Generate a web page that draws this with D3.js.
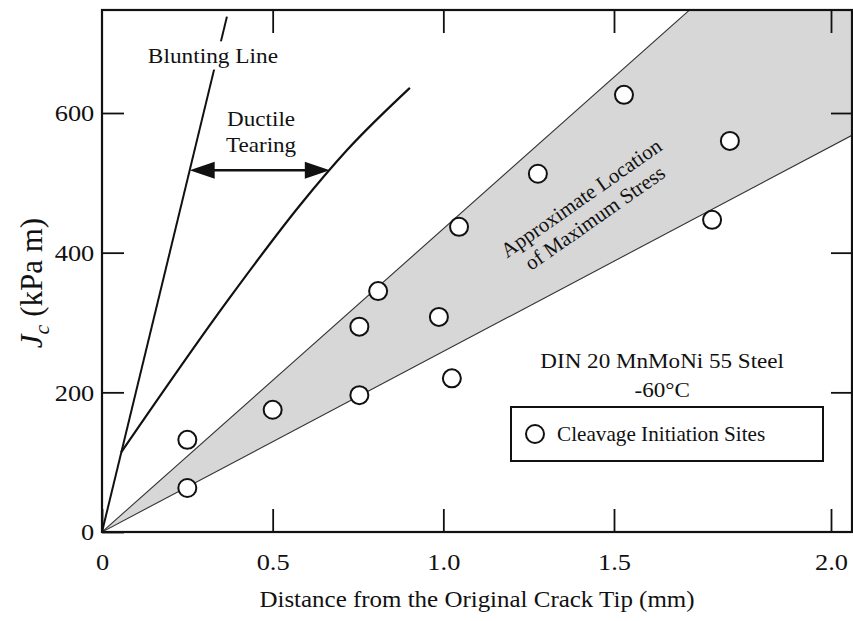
<!DOCTYPE html>
<html>
<head>
<meta charset="utf-8">
<script src="https://cdn.jsdelivr.net/npm/d3@7"></script>
<style>
body { margin: 0; background: #fff; }
svg text { font-family: "Liberation Serif", "Times New Roman", serif; fill: #111; }
</style>
</head>
<body>
<svg id="chart" width="853" height="621"></svg>
<script>
// cleavage initiation sites (mm, kPa m)
const siteX = [0.25, 0.25, 0.50, 0.754, 0.754, 0.809, 0.987, 1.025, 1.046, 1.277, 1.523, 1.726, 1.767]
const siteJ = [132, 63, 175, 196, 294, 345, 308, 220, 437, 513, 626, 447, 560]

// blunting line and ductile tearing curve
const bluntX = [0, 0.366]
const bluntJ = [0, 738]
const tearX = [0.056, 0.369, 0.580, 0.718, 0.902]
const tearJ = [114, 332, 468, 547, 636]

// shaded band = region between two rays from the origin
const bandX = [0, 1.675, 2.05, 2.05]
const bandJ = [0, 748, 748, 568]

const xTicks = [0, 0.5, 1.0, 1.5, 2.0]
const yTicks = [0, 200, 400, 600]
const arrowJ = 518

const margin = {top: 10, right: 1, bottom: 89, left: 102}
const width = 853 - margin.left - margin.right
const height = 621 - margin.top - margin.bottom
const SX = 1.1 // printed type is a bit wide

// the printed x axis is not even past 1.5, so follow its ticks
const x = d3.scaleLinear().domain([0, 1.5, 2.0, 2.05]).range([0, 512, 729, width])
const y = d3.scaleLinear().domain([0, 747.5]).range([height, 0])

const svg = d3.select('#chart')
const g = svg.append('g').attr('transform', `translate(${margin.left},${margin.top})`)

g.append('clipPath').attr('id', 'clip')
  .append('rect').attr('width', width).attr('height', height)
const plot = g.append('g').attr('clip-path', 'url(#clip)')

// band
const pts = (xs, js) => xs.map((d, i) => [x(d), y(js[i])])
plot.append('path')
  .attr('d', d3.line()(pts(bandX, bandJ)) + 'Z')
  .attr('fill', '#d7d7d7')
plot.append('path')
  .attr('d', d3.line()([[x(bandX[0]), y(bandJ[0])], [x(bandX[1]), y(bandJ[1])]]))
  .attr('stroke', '#333').attr('stroke-width', 1.1).attr('fill', 'none')
plot.append('path')
  .attr('d', d3.line()([[x(bandX[0]), y(bandJ[0])], [x(bandX[3]), y(bandJ[3])]]))
  .attr('stroke', '#333').attr('stroke-width', 1.1).attr('fill', 'none')

// blunting line + tearing curve
plot.append('path')
  .attr('d', d3.line()(pts(bluntX, bluntJ)))
  .attr('stroke', '#111').attr('stroke-width', 2).attr('fill', 'none')
plot.append('path')
  .attr('d', d3.line().curve(d3.curveMonotoneX)(pts(tearX, tearJ)))
  .attr('stroke', '#111').attr('stroke-width', 2.2).attr('fill', 'none')

// axes, ticks pointing inward on all four sides
function styleAxis(sel) {
  sel.select('.domain').remove()
  sel.selectAll('line').attr('stroke', '#111').attr('stroke-width', 1.8)
  sel.selectAll('text').style('font-size', '24px').attr('fill', '#111')
}
g.append('g').attr('transform', `translate(0,${height})`)
  .call(d3.axisBottom(x).tickValues(xTicks).tickSizeInner(-23).tickSizeOuter(0).tickPadding(21)
    .tickFormat(d => d === 0 ? '0' : d.toFixed(1)))
  .call(styleAxis)
  .selectAll('text').attr('transform', `scale(${SX},1)`)
g.append('g')
  .call(d3.axisTop(x).tickValues(xTicks.slice(1)).tickSizeInner(-23).tickSizeOuter(0).tickFormat(''))
  .call(styleAxis)
g.append('g')
  .call(d3.axisLeft(y).tickValues(yTicks).tickSizeInner(-22).tickSizeOuter(0).tickPadding(7))
  .call(styleAxis)
  .selectAll('text').attr('transform', `scale(${SX},1)`)
g.append('g').attr('transform', `translate(${width},0)`)
  .call(d3.axisRight(y).tickValues(yTicks.slice(1)).tickSizeInner(-21).tickSizeOuter(0).tickFormat(''))
  .call(styleAxis)

g.append('rect').attr('width', width).attr('height', height)
  .attr('fill', 'none').attr('stroke', '#111').attr('stroke-width', 2.2)

// helper: x on a polyline at a given J
function xAtJ(xs, js, J) {
  for (let i = 1; i < js.length; i++) {
    if (J <= js[i]) return xs[i-1] + (J - js[i-1]) / (js[i] - js[i-1]) * (xs[i] - xs[i-1])
  }
  return xs[xs.length-1]
}

function note(parent, px, py, str, size, sx) {
  return parent.append('text')
    .attr('transform', `translate(${px},${py}) scale(${sx || SX},1)`)
    .attr('text-anchor', 'middle')
    .style('font-size', size + 'px')
    .text(str)
}

// Blunting Line label sits on a white patch that breaks the line
const bl = note(g, x(0.325), y(672), 'Blunting Line', 22, 1.06)
const bb = bl.node().getBBox()
g.insert('rect', () => bl.node())
  .attr('x', x(0.325) - bb.width * 1.06 / 2 - 3).attr('y', y(672) + bb.y - 2)
  .attr('width', bb.width * 1.06 + 6).attr('height', bb.height + 4)
  .attr('fill', '#fff')

note(g, x(0.466), y(581), 'Ductile', 21)
note(g, x(0.466), y(544), 'Tearing', 21)

// double arrow between blunting line and tearing curve
const ax1 = x(xAtJ(bluntX, bluntJ, arrowJ))
const ax2 = x(xAtJ(tearX, tearJ, arrowJ))
const ay = y(arrowJ)
g.append('line').attr('x1', ax1 + 20).attr('x2', ax2 - 20).attr('y1', ay).attr('y2', ay)
  .attr('stroke', '#111').attr('stroke-width', 2.4)
g.append('path').attr('d', `M${ax1},${ay}L${ax1+25},${ay-8.5}L${ax1+25},${ay+8.5}Z`).attr('fill', '#111')
g.append('path').attr('d', `M${ax2},${ay}L${ax2-25},${ay-8.5}L${ax2-25},${ay+8.5}Z`).attr('fill', '#111')

// band label
const bt = g.append('text')
  .attr('transform', `translate(${x(1.424)},${y(464)}) rotate(-35)`)
  .attr('text-anchor', 'middle').style('font-size', '21px')
bt.append('tspan').attr('x', 0).attr('dy', -5).text('Approximate Location')
bt.append('tspan').attr('x', 0).attr('dy', 24).text('of Maximum Stress')

note(g, x(1.611), y(235), 'DIN 20 MnMoNi 55 Steel', 22, 1.05)
note(g, x(1.611), y(193), '-60°C', 22, 1.05)

// sites
plot.selectAll('circle.site')
  .data(siteX.map((d, i) => ({x: d, j: siteJ[i]})))
  .join('circle')
  .attr('class', 'site')
  .attr('cx', d => x(d.x)).attr('cy', d => y(d.j)).attr('r', 9)
  .attr('fill', '#fff').attr('stroke', '#111').attr('stroke-width', 2)

// legend box
const lg = svg.append('g').attr('transform', 'translate(511,407)')
lg.append('rect').attr('width', 312).attr('height', 54)
  .attr('fill', '#fff').attr('stroke', '#111').attr('stroke-width', 2)
lg.append('circle').attr('cx', 24).attr('cy', 27).attr('r', 9)
  .attr('fill', '#fff').attr('stroke', '#111').attr('stroke-width', 2)
lg.append('text').attr('transform', `translate(46,34) scale(1.06,1)`)
  .style('font-size', '20px').text('Cleavage Initiation Sites')

// axis titles
svg.append('text')
  .attr('transform', `translate(477,607) scale(1.04,1)`)
  .attr('text-anchor', 'middle').style('font-size', '24px')
  .text('Distance from the Original Crack Tip (mm)')

const yt = svg.append('text')
  .attr('transform', 'translate(42,283) rotate(-90)')
  .attr('text-anchor', 'middle').style('font-size', '31px')
yt.append('tspan').style('font-style', 'italic').text('J')
yt.append('tspan').style('font-style', 'italic').style('font-size', '22px').attr('dy', 7).text('c')
yt.append('tspan').attr('dy', -7).text(' (kPa m)')
</script>
</body>
</html>
